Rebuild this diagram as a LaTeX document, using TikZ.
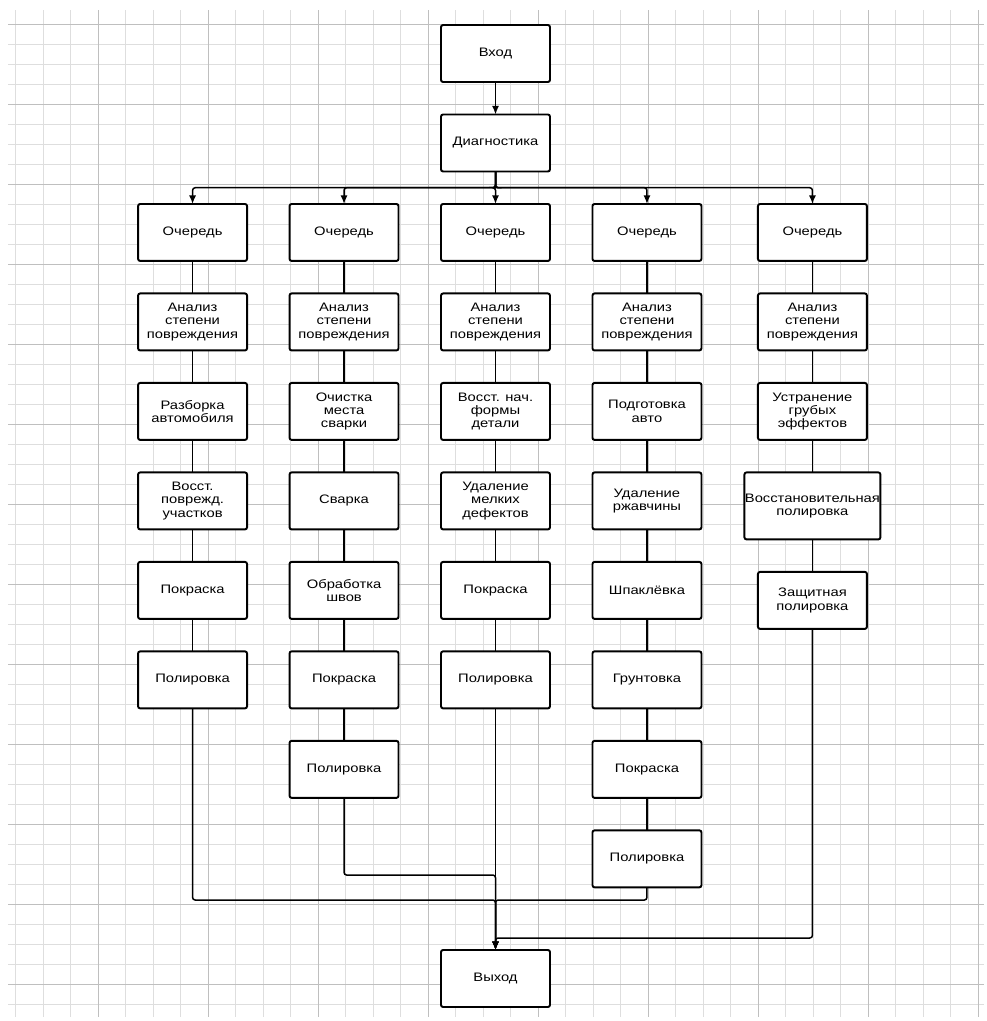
\documentclass[tikz,border=0pt]{standalone}
\usepackage{fontspec}
\setmainfont{Liberation Sans}[FakeStretch=1.2]
\usetikzlibrary{arrows.meta, positioning, calc}

\begin{document}
\begin{tikzpicture}[
    x=0.02cm, y=-0.02cm,
    node distance=0.65cm and 0.85cm,
    stage/.style={draw, line width=1.1pt, outer sep=0pt, rounded corners=1.2pt, fill=white, minimum width=2.18cm, minimum height=1.14cm, align=center, font=\fontsize{7}{7.6}\selectfont},
    link/.style={line width=0.85pt},
    flow/.style={link, rounded corners=1.5pt, -{Latex[length=1.7mm, width=1.4mm]}},
    gridminor/.style={gray!26, line width=0.4pt},
    gridmajor/.style={gray!50, line width=0.5pt}
]
    % squared paper
    \useasboundingbox (0,0) rectangle (987,1021);
    \fill[white] (0,0) rectangle (987,1021);
    \foreach \i in {0,...,35} \draw[gridminor] ({15.5+27.5*\i},10) -- ({15.5+27.5*\i},1017);
    \foreach \j in {0,...,49} \draw[gridminor] (8,{24+20*\j}) -- (984,{24+20*\j});
    \foreach \i in {0,...,8} \draw[gridmajor] ({98+110*\i},10) -- ({98+110*\i},1017);
    \foreach \j in {0,...,12} \draw[gridmajor] (8,{24+80*\j}) -- (984,{24+80*\j});

    % entry and queues
    \node[stage] (vhod) at (495.5,53.5) {Вход};
    \node[stage, below=of vhod] (diag) {Диагностика};
    \node[stage, below=of diag] (och3) {Очередь};
    \node[stage, left=of och3] (och2) {Очередь};
    \node[stage, left=of och2] (och1) {Очередь};
    \node[stage, right=of och3] (och4) {Очередь};
    \node[stage, right=1.13cm of och4] (och5) {Очередь};

    % column 1
    \node[stage, below=of och1] (an1) {Анализ\\степени\\повреждения};
    \node[stage, below=of an1] (razborka) {Разборка\\автомобиля};
    \node[stage, below=of razborka] (vosst1) {Восст.\\поврежд.\\участков};
    \node[stage, below=of vosst1] (pokr1) {Покраска};
    \node[stage, below=of pokr1] (pol1) {Полировка};

    % column 2
    \node[stage, below=of och2] (an2) {Анализ\\степени\\повреждения};
    \node[stage, below=of an2] (ochistka) {Очистка\\места\\сварки};
    \node[stage, below=of ochistka] (svarka) {Сварка};
    \node[stage, below=of svarka] (shvy) {Обработка\\швов};
    \node[stage, below=of shvy] (pokr2) {Покраска};
    \node[stage, below=of pokr2] (pol2) {Полировка};

    % column 3
    \node[stage, below=of och3] (an3) {Анализ\\степени\\повреждения};
    \node[stage, below=of an3] (forma) {Восст. нач.\\формы\\детали};
    \node[stage, below=of forma] (melkie) {Удаление\\мелких\\дефектов};
    \node[stage, below=of melkie] (pokr3) {Покраска};
    \node[stage, below=of pokr3] (pol3) {Полировка};

    % column 4
    \node[stage, below=of och4] (an4) {Анализ\\степени\\повреждения};
    \node[stage, below=of an4] (podg) {Подготовка\\авто};
    \node[stage, below=of podg] (rzh) {Удаление\\ржавчины};
    \node[stage, below=of rzh] (shpakl) {Шпаклёвка};
    \node[stage, below=of shpakl] (grunt) {Грунтовка};
    \node[stage, below=of grunt] (pokr4) {Покраска};
    \node[stage, below=of pokr4] (pol4) {Полировка};

    % column 5
    \node[stage, below=of och5] (an5) {Анализ\\степени\\повреждения};
    \node[stage, below=of an5] (grub) {Устранение\\грубых\\эффектов};
    \node[stage, below=of grub, minimum width=2.72cm, minimum height=1.34cm, inner xsep=0pt] (vospol) {Восстановительная\\полировка};
    \node[stage, below=of vospol] (zashch) {Защитная\\полировка};

    \node[stage] (vyhod) at (495.5,978.5) {Выход};

    % fan-out
    \draw[flow] (vhod) -- (diag);
    \coordinate (split) at ($(diag.south)!0.5!(och3.north)$);
    \foreach \q in {1,...,5}
        \draw[flow] (diag.south) -- (split) -| (och\q.north);

    % steps inside the columns
    \foreach \a/\b in {och1/an1, an1/razborka, razborka/vosst1, vosst1/pokr1, pokr1/pol1,
                       och2/an2, an2/ochistka, ochistka/svarka, svarka/shvy, shvy/pokr2, pokr2/pol2,
                       och3/an3, an3/forma, forma/melkie, melkie/pokr3, pokr3/pol3,
                       och4/an4, an4/podg, podg/rzh, rzh/shpakl, shpakl/grunt, grunt/pokr4, pokr4/pol4,
                       och5/an5, an5/grub, grub/vospol, vospol/zashch}
        \draw[link] (\a) -- (\b);

    % merge into the exit
    \coordinate (mergeA) at ([yshift=1cm]vyhod.north);
    \coordinate (mergeB) at ([yshift=1.5cm]vyhod.north);
    \coordinate (mergeC) at ([yshift=0.24cm]vyhod.north);
    \draw[flow] (pol1.south) |- (mergeA) -- (vyhod.north);
    \draw[flow] (pol4.south) |- (mergeA) -- (vyhod.north);
    \draw[flow] (pol2.south) |- (mergeB) -- (vyhod.north);
    \draw[flow] (zashch.south) |- (mergeC) -- (vyhod.north);
    \draw[flow] (pol3) -- (vyhod);
\end{tikzpicture}
\end{document}
